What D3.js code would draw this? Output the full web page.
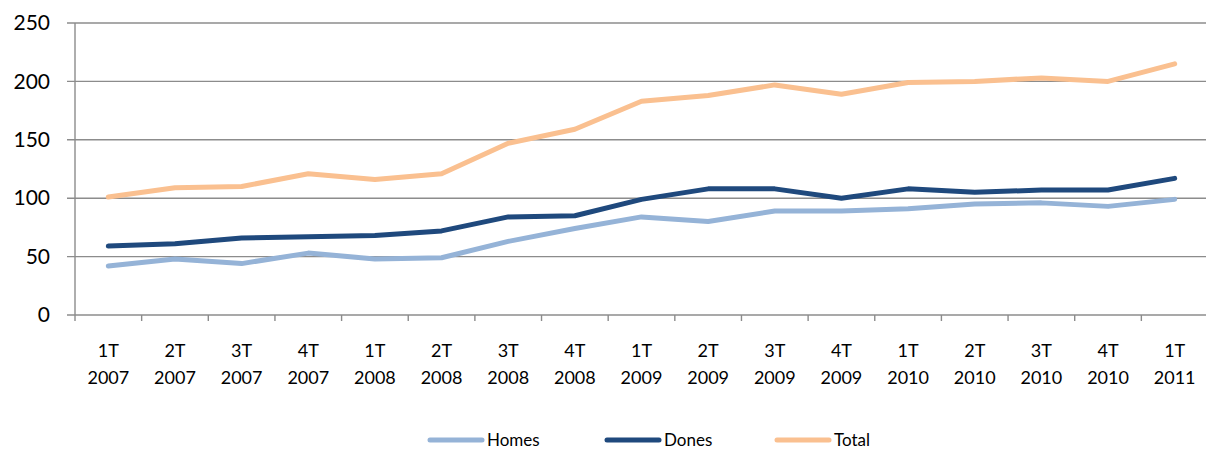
<!DOCTYPE html>
<html>
<head>
<meta charset="utf-8">
<script src="https://cdn.jsdelivr.net/npm/d3@7"></script>
<style>
  body { margin: 0; background: #fff; }
  svg text { font-family: Lato, "Open Sans", sans-serif; fill: #000; }
</style>
</head>
<body>
<div id="chart"></div>
<script>
var width = 1206;
var height = 450;
var margin = {top: 23, bottom: 135, left: 75, right: -2}

var quarters = ["1T","2T","3T","4T","1T","2T","3T","4T","1T","2T","3T","4T","1T","2T","3T","4T","1T"]
var years = ["2007","2007","2007","2007","2008","2008","2008","2008","2009","2009","2009","2009","2010","2010","2010","2010","2011"]
var homes = [42, 48, 44, 53, 48, 49, 63, 74, 84, 80, 89, 89, 91, 95, 96, 93, 99]
var dones = [59, 61, 66, 67, 68, 72, 84, 85, 99, 108, 108, 100, 108, 105, 107, 107, 117]
var total = [101, 109, 110, 121, 116, 121, 147, 159, 183, 188, 197, 189, 199, 200, 203, 200, 215]
var yTicks = [0, 50, 100, 150, 200, 250]

var seriesNames = ["Homes", "Dones", "Total"]
var seriesColours = {"Homes": "#95b3d7", "Dones": "#1f497d", "Total": "#fac090"}
var seriesValues = {"Homes": homes, "Dones": dones, "Total": total}

var svg = d3.select("#chart")
    .append("svg")
        .attr("width", width)
        .attr("height", height)

var w = width - margin.left - margin.right
var h = height - margin.top - margin.bottom
var g = svg.append("g")
    .attr("transform", "translate(" + margin.left + "," + margin.top + ")")

var idx = d3.range(quarters.length)
var xscale = d3.scaleBand()
    .domain(idx)
    .range([0, w])
var yscale = d3.scaleLinear()
    .domain([0, 250])
    .range([h, 0])

// gridlines
g.selectAll(".grid")
    .data(yTicks)
    .enter().append("line")
    .attr("class", "grid")
    .attr("x1", -8)
    .attr("x2", w)
    .attr("y1", function(d){ return yscale(d) })
    .attr("y2", function(d){ return yscale(d) })
    .style("stroke", "#8c8c8c")
    .style("stroke-width", 1.4)

// y axis
var y_axis = d3.axisLeft(yscale).tickValues(yTicks).tickSize(0).tickPadding(25)
var yg = g.append("g").call(y_axis)
yg.select(".domain").remove()
yg.selectAll("text").style("font-size", "21px")
g.append("line")
    .attr("x1", 0).attr("x2", 0)
    .attr("y1", 0).attr("y2", h)
    .style("stroke", "#8c8c8c")
    .style("stroke-width", 1.4)

// x axis ticks at category boundaries
var bounds = d3.range(quarters.length + 1)
g.selectAll(".xtick")
    .data(bounds)
    .enter().append("line")
    .attr("class", "xtick")
    .attr("x1", function(d){ return d * xscale.step() })
    .attr("x2", function(d){ return d * xscale.step() })
    .attr("y1", h)
    .attr("y2", h + 6)
    .style("stroke", "#8c8c8c")
    .style("stroke-width", 1.4)

var xlab = g.selectAll(".xlab")
    .data(idx)
    .enter().append("text")
    .attr("class", "xlab")
    .attr("text-anchor", "middle")
    .style("font-size", "18px")
xlab.append("tspan")
    .attr("x", function(d){ return xscale(d) + xscale.bandwidth() / 2 })
    .attr("y", h + 42)
    .text(function(d){ return quarters[d] })
xlab.append("tspan")
    .attr("x", function(d){ return xscale(d) + xscale.bandwidth() / 2 })
    .attr("y", h + 69)
    .text(function(d){ return years[d] })

// lines
var line = d3.line()
    .x(function(d, i){ return xscale(i) + xscale.bandwidth() / 2 })
    .y(function(d){ return yscale(d) })

seriesNames.forEach(function(s){
    g.append("path")
        .datum(seriesValues[s])
        .attr("d", line)
        .style("fill", "none")
        .style("stroke", seriesColours[s])
        .style("stroke-width", 5)
        .style("stroke-linecap", "round")
        .style("stroke-linejoin", "round")
})

// legend
var legendX = [430, 607, 777]
var legend = svg.selectAll(".legend")
    .data(seriesNames)
    .enter().append("g")
    .attr("class", "legend")
    .attr("transform", function(d, i){ return "translate(" + legendX[i] + ",440)" })
legend.append("line")
    .attr("x1", 0).attr("x2", 52)
    .attr("y1", 0).attr("y2", 0)
    .style("stroke", function(d){ return seriesColours[d] })
    .style("stroke-width", 5)
    .style("stroke-linecap", "round")
legend.append("text")
    .attr("x", 57)
    .attr("y", 6)
    .style("font-size", "17px")
    .text(function(d){ return d })
</script>
</body>
</html>
